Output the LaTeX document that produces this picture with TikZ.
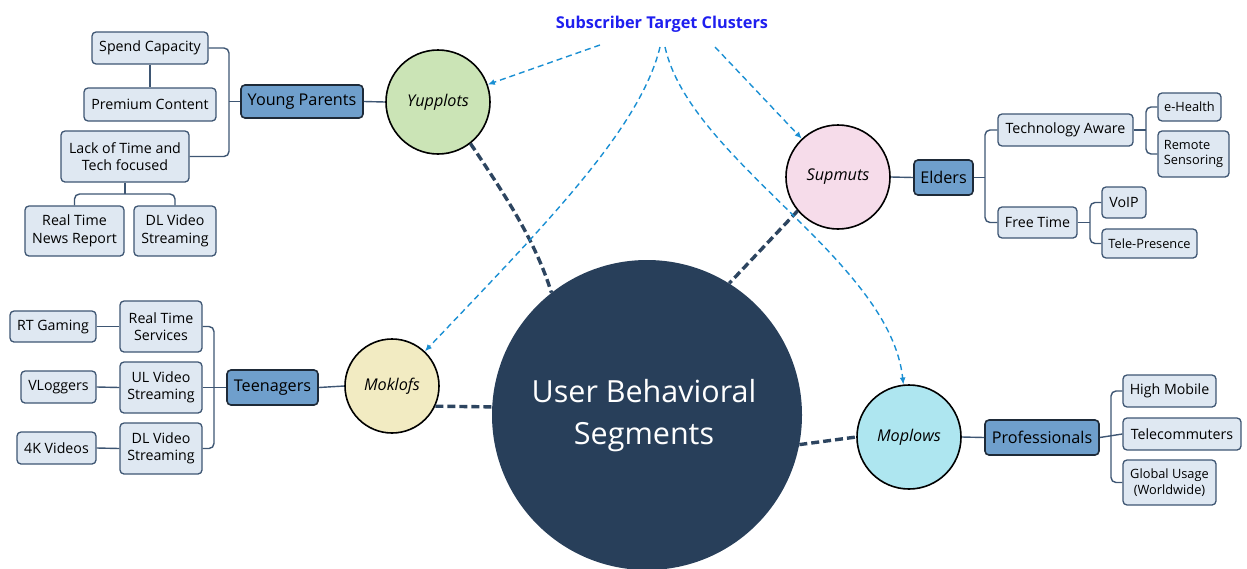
\documentclass[tikz,border=0pt]{standalone}
\usepackage{fontspec}
\setmainfont{Open Sans}
\usetikzlibrary{arrows.meta}
\definecolor{navy}{HTML}{283F5A}
\definecolor{dashnavy}{HTML}{2D4560}
\definecolor{leafFill}{HTML}{DFE8F2}
\definecolor{leafLine}{HTML}{3E5673}
\definecolor{groupFill}{HTML}{6F9FCC}
\definecolor{groupLine}{HTML}{1E2A38}
\definecolor{arrowBlue}{HTML}{1A8FD3}
\definecolor{titleBlue}{HTML}{1F1FEF}
\definecolor{yupFill}{HTML}{CBE4B6}
\definecolor{supFill}{HTML}{F6DCEA}
\definecolor{mokFill}{HTML}{F2EBC2}
\definecolor{mopFill}{HTML}{AEE6F0}
\tikzset{
  leaf/.style={draw=leafLine, fill=leafFill, line width=1.3pt, rounded corners=4pt,
    align=center, inner sep=1pt, font=\fontsize{14.2}{17.5}\selectfont},
  smallleaf/.style={leaf, font=\fontsize{12.8}{15.5}\selectfont},
  group/.style={draw=groupLine, fill=groupFill, line width=1.6pt, rounded corners=4pt,
    inner sep=1pt, font=\fontsize{16.2}{18}\selectfont},
  cluster/.style={circle, draw=black, line width=1.6pt, inner sep=0pt,
    font=\fontsize{16.2}{18}\selectfont\itshape},
  conn/.style={draw=leafLine, line width=1.4pt, rounded corners=5pt},
  link/.style={draw=dashnavy, line width=3.4pt, dash pattern=on 8pt off 4pt},
  pointer/.style={draw=arrowBlue, line width=1.4pt, dash pattern=on 6pt off 4pt,
    -{Latex[length=7pt,width=6pt]}}
}
\begin{document}
\begin{tikzpicture}[x=1pt,y=-1pt]
\useasboundingbox (0,0) rectangle (1247,568);
\clip (0,0) rectangle (1247,568);

% central segment
\node[circle, fill=navy, minimum size=310pt, inner sep=0pt] (ubs) at (647,415) {};
\node[text=white, align=center, font=\fontsize{30.5}{42}\selectfont] (ubst) at (644,416) {User Behavioral\\Segments};

% clusters
\node[cluster, fill=yupFill, minimum size=104pt] (yup) at (438,102) {Yupplots};
\node[cluster, fill=supFill, minimum size=104pt] (sup) at (838,177) {Supmuts};
\node[cluster, fill=mokFill, minimum size=94pt] (mok) at (392,386) {Moklofs};
\node[cluster, fill=mopFill, minimum size=104pt] (mop) at (909,437) {Moplows};

% title and the points the pointers leave from
\node[text=titleBlue, font=\fontsize{16.3}{18}\selectfont\bfseries] (title) at (662,24) {Subscriber Target Clusters};
\coordinate (tA) at (600,45);
\coordinate (tB) at (660,47);
\coordinate (tC) at (665,47);
\coordinate (tD) at (715,47);

% group boxes
\node[group, minimum width=122pt, minimum height=33pt] (ypar) at (302,101.5) {Young Parents};
\node[group, minimum width=91pt, minimum height=35pt] (teen) at (272.5,387.5) {Teenagers};
\node[group, minimum width=59pt, minimum height=35pt] (eld) at (943.5,177.5) {Elders};
\node[group, minimum width=114pt, minimum height=35pt] (prof) at (1042,437.5) {Professionals};

% Young Parents leaves
\node[leaf, minimum width=116pt, minimum height=32pt] (sc) at (150,48) {Spend Capacity};
\node[leaf, minimum width=132pt, minimum height=33pt] (pc) at (150,104.5) {Premium Content};
\node[leaf, minimum width=128pt, minimum height=51pt] (lt) at (125,156.5) {Lack of Time and\\Tech focused};
\node[leaf, minimum width=99pt, minimum height=50pt] (rtn) at (74.5,231) {Real Time\\News Report};
\node[leaf, minimum width=82pt, minimum height=50pt] (dla) at (175,231) {DL Video\\Streaming};

% Teenagers leaves
\node[leaf, minimum width=86pt, minimum height=31pt] (rtg) at (53,326.5) {RT Gaming};
\node[leaf, minimum width=82pt, minimum height=51pt] (rts) at (161,326.5) {Real Time\\Services};
\node[leaf, minimum width=75pt, minimum height=32pt] (vlg) at (58.5,387) {VLoggers};
\node[leaf, minimum width=82pt, minimum height=51pt] (ulv) at (161,387.5) {UL Video\\Streaming};
\node[leaf, minimum width=79pt, minimum height=32pt] (k4v) at (56.5,448) {4K Videos};
\node[leaf, minimum width=82pt, minimum height=51pt] (dlb) at (161,448.5) {DL Video\\Streaming};

% Elders leaves
\node[leaf, minimum width=135pt, minimum height=32pt] (taw) at (1065.5,130) {Technology Aware};
\node[leaf, minimum width=79pt, minimum height=31pt] (ftm) at (1037.5,222.5) {Free Time};
\node[smallleaf, minimum width=63pt, minimum height=28pt] (ehl) at (1189.5,107) {e-Health};
\node[smallleaf, minimum width=71pt, minimum height=46pt, align=left] (rsn) at (1193.5,154) {Remote\\Sensoring};
\node[leaf, minimum width=44pt, minimum height=31pt] (voi) at (1124,202.5) {VoIP};
\node[smallleaf, minimum width=95pt, minimum height=29pt] (tpr) at (1149.5,243.5) {Tele-Presence};

% Professionals leaves
\node[leaf, minimum width=93pt, minimum height=32pt] (hmb) at (1169.5,391) {High Mobile};
\node[leaf, minimum width=118pt, minimum height=32pt] (tcm) at (1182,434) {Telecommuters};
\node[smallleaf, minimum width=93pt, minimum height=45pt] (gus) at (1169.5,482.5) {Global Usage\\(Worldwide)};

% bus junctions
\coordinate (ypbus) at (229,101.5);
\coordinate (ltbus) at (125,194);
\coordinate (tnbus) at (214,387.5);
\coordinate (elbus) at (985,177.5);
\coordinate (tabus) at (1146,130);
\coordinate (ftbus) at (1090,222.5);
\coordinate (prbus) at (1111,437.5);

% tree connectors
\draw[conn] (sc.east) -| (ypbus) |- (lt.east);
\draw[conn] (ypar.west) -- (ypbus);
\draw[conn] (sc.south) -- (pc.north);
\draw[conn] (lt.south) -- (ltbus);
\draw[conn] (rtn.north) |- (ltbus) -| (dla.north);

\draw[conn] (rts.east) -| (tnbus) |- (dlb.east);
\draw[conn] (ulv.east) -- (teen.west);
\draw[conn] (rtg.east) -- (rts.west);
\draw[conn] (vlg.east) -- (ulv.west);
\draw[conn] (k4v.east) -- (dlb.west);

\draw[conn] (taw.west) -| (elbus) |- (ftm.west);
\draw[conn] (eld.east) -- (elbus);
\draw[conn] (ehl.west) -| (tabus) |- (rsn.west);
\draw[conn] (taw.east) -- (tabus);
\draw[conn] (voi.west) -| (ftbus) |- (tpr.west);
\draw[conn] (ftm.east) -- (ftbus);

\draw[conn] (hmb.west) -| (prbus) |- (gus.west);
\draw[conn] (prof.east) -- (tcm.west);

% cluster to group
\draw[conn] (yup.west) -- (ypar.east);
\draw[conn] (mok.west) -- (teen.east);
\draw[conn] (sup.east) -- (eld.west);
\draw[conn] (mop.east) -- (prof.west);

% links to the central segment
\draw[link] (yup.-52) .. controls (505,195) and (535,240) .. (ubs.128);
\draw[link] (sup.220) -- (ubs.58);
\draw[link] (mok.-25) -- (ubs.177);
\draw[link] (ubs.-11) -- (mop.west);

% cluster pointers
\draw[pointer] (tA) -- (yup);
\draw[pointer] (tD) -- (sup);
\draw[pointer] (tB) .. controls (640,130) and (540,230) .. (mok);
\draw[pointer] (tC) .. controls (690,160) and (890,260) .. (mop);
\end{tikzpicture}
\end{document}
